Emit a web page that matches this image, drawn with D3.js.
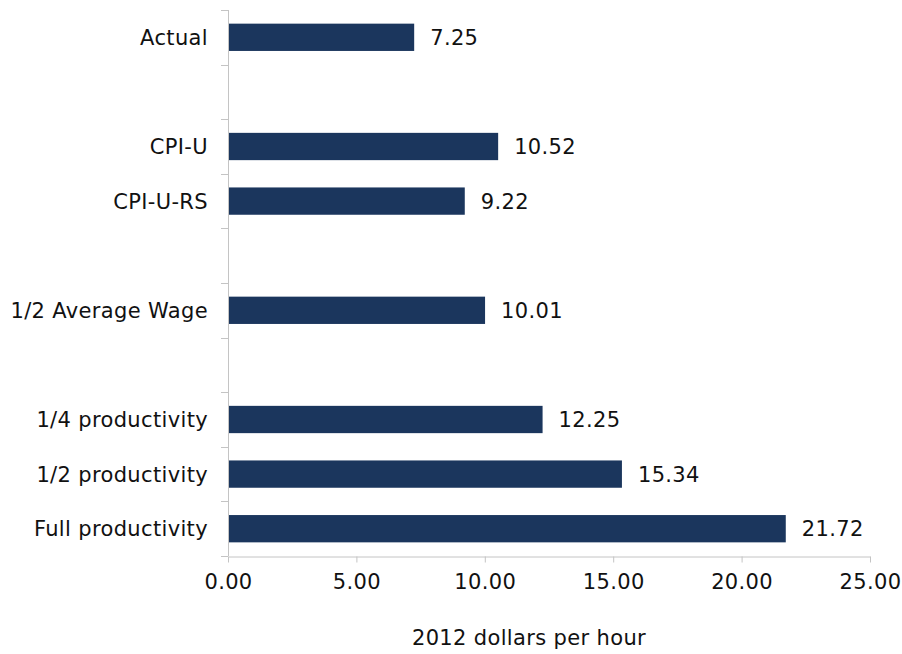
<!DOCTYPE html>
<html>
<head>
<meta charset="utf-8">
<title>Minimum wage benchmarks</title>
<style>
  body { margin: 0; background: #fff; }
  text { font-family: "DejaVu Sans", Verdana, sans-serif; fill: #111; letter-spacing: 0.35px; }
</style>
</head>
<body>
<svg id="chart" width="902" height="654"></svg>
<script src="https://cdn.jsdelivr.net/npm/d3@7"></script>
<script>
// categories top to bottom, gaps are spacer rows
var categories = ['Actual', 'gap1', 'CPI-U', 'CPI-U-RS', 'gap2', '1/2 Average Wage', 'gap3',
                  '1/4 productivity', '1/2 productivity', 'Full productivity'];
var values = [7.25, null, 10.52, 9.22, null, 10.01, null, 12.25, 15.34, 21.72];
var xTicks = [0, 5, 10, 15, 20, 25];
var xTitle = '2012 dollars per hour';

var svg = d3.select('#chart');
var plotLeft = 228, plotRight = 870, plotTop = 10, plotBottom = 556;
var fontSize = '21px';

var x = d3.scaleLinear().domain([0, 25]).range([plotLeft, plotRight]);
var y = d3.scaleBand().domain(categories).range([plotTop, plotBottom])
    .paddingInner(0.5).paddingOuter(0.25);

var rows = categories.map(function (c, i) { return { cat: c, v: values[i] }; })
    .filter(function (d) { return d.v !== null; });

// bars
svg.selectAll('rect.bar').data(rows).enter().append('rect')
    .attr('class', 'bar')
    .attr('x', x(0))
    .attr('y', function (d) { return y(d.cat); })
    .attr('width', function (d) { return x(d.v) - x(0); })
    .attr('height', y.bandwidth())
    .attr('fill', '#1b365d');

// value labels
svg.selectAll('text.val').data(rows).enter().append('text')
    .attr('class', 'val')
    .attr('x', function (d) { return x(d.v) + 16; })
    .attr('y', function (d) { return y(d.cat) + y.bandwidth() / 2; })
    .attr('dy', '0.36em')
    .style('font-size', fontSize)
    .text(function (d) { return d.v.toFixed(2); });

// category labels
svg.selectAll('text.cat').data(rows).enter().append('text')
    .attr('class', 'cat')
    .attr('x', plotLeft - 20)
    .attr('y', function (d) { return y(d.cat) + y.bandwidth() / 2; })
    .attr('dy', '0.36em')
    .attr('text-anchor', 'end')
    .style('font-size', fontSize)
    .text(function (d) { return d.cat; });

// y axis line and ticks at row boundaries
var axisColor = '#c4c4c4';
var step = (plotBottom - plotTop) / categories.length;
svg.append('line')
    .attr('x1', plotLeft + 0.5).attr('x2', plotLeft + 0.5)
    .attr('y1', plotTop).attr('y2', plotBottom)
    .attr('stroke', axisColor);
svg.selectAll('line.ytick').data(d3.range(categories.length + 1)).enter().append('line')
    .attr('class', 'ytick')
    .attr('x1', plotLeft - 7).attr('x2', plotLeft)
    .attr('y1', function (i) { return Math.round(plotTop + i * step) + 0.5; })
    .attr('y2', function (i) { return Math.round(plotTop + i * step) + 0.5; })
    .attr('stroke', axisColor);

// x axis
var xAxis = svg.append('g')
    .attr('transform', 'translate(0,' + (plotBottom + 0.5) + ')')
    .call(d3.axisBottom(x).tickValues(xTicks).tickSize(6).tickSizeOuter(0).tickPadding(12)
        .tickFormat(function (d) { return d.toFixed(2); }));
xAxis.select('.domain').attr('stroke', axisColor);
xAxis.selectAll('.tick line').attr('stroke', axisColor);
xAxis.selectAll('.tick text')
    .style('font-size', fontSize)
    .style('font-family', '"DejaVu Sans", Verdana, sans-serif')
    .attr('fill', '#111');

// axis title
svg.append('text')
    .attr('x', 529)
    .attr('y', 645)
    .attr('text-anchor', 'middle')
    .style('font-size', fontSize)
    .text(xTitle);
</script>
</body>
</html>
